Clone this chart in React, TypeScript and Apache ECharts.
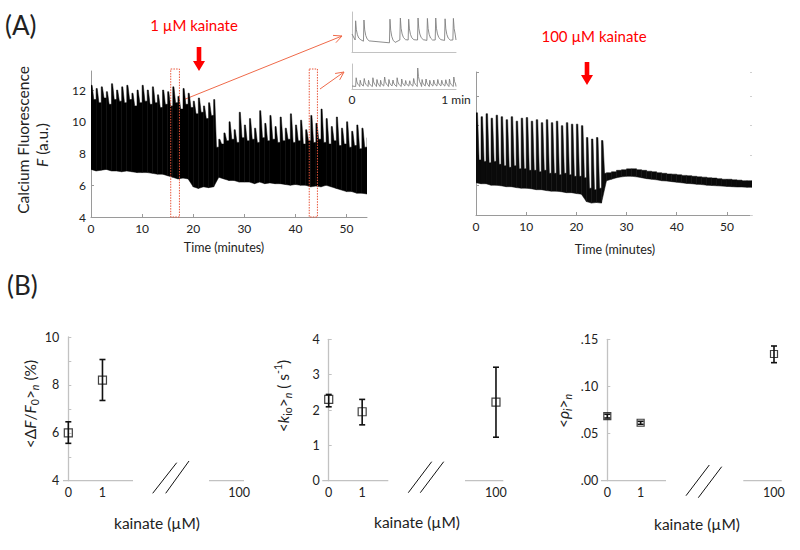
import React, { useEffect, useRef } from 'react';
import * as echarts from 'echarts';

const FONT = 'Lato, "Open Sans", "DejaVu Sans", sans-serif';

// ---------- Panel A: traces, sampled per minute (envelopes) ----------
const leftTime = [0, 1, 2, 3, 4, 5, 6, 7, 8, 9, 10, 11, 12, 13, 14, 15, 16, 17, 18, 19, 20, 21, 22, 23, 24, 25, 26, 27, 28, 29, 30, 31, 32, 33, 34, 35, 36, 37, 38, 39, 40, 41, 42, 43, 44, 45, 46, 47, 48, 49, 50, 51, 52, 53, 54];
const leftLow = [7.0, 6.9, 6.95, 7.0, 6.9, 6.9, 6.85, 6.9, 6.85, 6.8,
  6.8, 6.8, 6.75, 6.7, 6.7, 6.6, 6.5, 6.4, 6.45, 6.4,
  5.9, 5.8, 5.9, 5.85, 5.9, 6.5, 6.4, 6.3, 6.3, 6.2,
  6.2, 6.2, 6.1, 6.2, 6.1, 6.15, 6.1, 6.1, 6.05, 6.0,
  6.05, 6.0, 6.0, 5.9, 5.95, 5.9, 6.0, 5.9, 5.8, 5.7,
  5.6, 5.6, 5.5, 5.5, 5.45];
const leftMid = [11.4, 11.2, 11.5, 11.1, 11.4, 11.3, 11.2, 11.4, 11.0, 11.2,
  11.3, 11.1, 11.2, 10.9, 11.1, 11.0, 11.2, 10.8, 11.1, 10.9,
  10.5, 10.6, 10.2, 10.4, 8.4, 8.6, 8.8, 8.9, 8.7, 9.0,
  8.8, 8.9, 8.7, 9.0, 8.8, 8.9, 8.7, 8.8, 8.9, 8.7,
  8.8, 8.6, 8.8, 8.7, 8.9, 8.7, 8.6, 8.8, 8.5, 8.6,
  8.4, 8.5, 8.3, 8.4, 8.2];
const leftHigh = [12.3, 12.1, 12.2, 11.9, 12.4, 12.0, 12.2, 12.3, 11.8, 12.0,
  12.3, 12.0, 12.2, 11.7, 12.0, 11.9, 12.2, 11.6, 12.1, 11.8,
  11.3, 11.5, 11.0, 11.2, 11.4, 8.9, 9.3, 10.0, 9.5, 10.6,
  9.8, 10.2, 9.6, 10.7, 9.9, 10.4, 9.7, 10.3, 9.6, 10.5,
  9.8, 10.1, 9.5, 10.4, 9.9, 10.8, 10.2, 9.7, 10.3, 9.6,
  10.0, 9.4, 9.8, 9.6, 9.0];

const rightTime = [0, 1, 2, 3, 4, 5, 6, 7, 8, 9, 10, 11, 12, 13, 14, 15, 16, 17, 18, 19, 20, 21, 22, 23, 24, 25, 26, 27, 28, 29, 30, 31, 32, 33, 34, 35, 36, 37, 38, 39, 40, 41, 42, 43, 44, 45, 46, 47, 48, 49, 50, 51, 52, 53, 54];
const rightLow = [1.08, 1.05, 1.05, 1.0, 1.0, 0.98, 0.95, 0.95, 0.92, 0.9,
  0.9, 0.88, 0.85, 0.85, 0.82, 0.8, 0.8, 0.78, 0.75, 0.75,
  0.72, 0.7, 0.45, 0.4, 0.42, 0.4, 1.15, 1.2, 1.25, 1.28,
  1.3, 1.3, 1.28, 1.25, 1.22, 1.2, 1.18, 1.15, 1.14, 1.12,
  1.1, 1.08, 1.06, 1.05, 1.03, 1.02, 1.0, 0.99, 0.98, 0.97,
  0.96, 0.95, 0.94, 0.94, 0.93];
const rightMid = [1.85, 1.8, 1.75, 1.8, 1.7, 1.65, 1.6, 1.65, 1.55, 1.55,
  1.5, 1.5, 1.45, 1.5, 1.4, 1.4, 1.35, 1.4, 1.35, 1.3,
  1.3, 1.25, 0.9, 0.85, 0.9, 1.4, 1.42, 1.45, 1.5, 1.52,
  1.55, 1.55, 1.52, 1.5, 1.47, 1.45, 1.42, 1.4, 1.38, 1.37,
  1.35, 1.33, 1.32, 1.3, 1.28, 1.27, 1.25, 1.24, 1.22, 1.2,
  1.2, 1.18, 1.17, 1.15, 1.15];
const rightHigh = [3.43, 3.3, 3.4, 3.25, 3.35, 3.3, 3.2, 3.3, 3.15, 3.25,
  3.27, 3.15, 3.2, 3.1, 3.2, 3.1, 3.15, 3.0, 3.1, 3.05,
  3.05, 3.0, 2.6, 2.55, 2.6, 2.5, 1.42, 1.45, 1.5, 1.52,
  1.55, 1.55, 1.52, 1.5, 1.47, 1.45, 1.42, 1.4, 1.38, 1.37,
  1.35, 1.33, 1.32, 1.3, 1.28, 1.27, 1.25, 1.24, 1.22, 1.2,
  1.2, 1.18, 1.17, 1.15, 1.15];

const leftYRange = [4, 13.2];
const rightYRange = [0, 4.8];
const zoomBoxStart = [15.6, 42.7];
const zoomBoxEnd = [17.3, 44.3];

// inset traces (1 minute windows)
const insetTopStart = 0.45;
const insetTopTimes = [0.03, 0.11, 0.36, 0.46, 0.54, 0.63, 0.72, 0.80, 0.89, 0.97];
const insetTopPeaks = [0.78, 0.80, 0.82, 0.85, 0.82, 0.85, 0.84, 0.85, 0.83, 0.84];
const insetTopBases = [0.30, 0.27, 0.23, 0.30, 0.30, 0.30, 0.29, 0.30, 0.29, 0.30];
const insetBotStart = 0.12;
const insetBotTimes = [0.035, 0.074, 0.113, 0.154, 0.196, 0.235, 0.27, 0.309, 0.35, 0.389, 0.429, 0.473, 0.511, 0.55, 0.588, 0.627, 0.669, 0.707, 0.743, 0.781, 0.82, 0.858, 0.897, 0.932, 0.974];
const insetBotPeaks = [0.45, 0.35, 0.42, 0.35, 0.45, 0.38, 0.35, 0.48, 0.38, 0.36, 0.45, 0.40, 0.34, 0.33, 0.42, 0.84, 0.38, 0.40, 0.35, 0.36, 0.38, 0.35, 0.37, 0.40, 0.48];
const insetBotBases = [0.10, 0.10, 0.10, 0.10, 0.10, 0.10, 0.10, 0.10, 0.10, 0.10, 0.10, 0.10, 0.10, 0.10, 0.10, 0.10, 0.10, 0.10, 0.10, 0.10, 0.10, 0.10, 0.10, 0.10, 0.10];

// ---------- Panel B ----------
const kainateLabels = ['0', '1', '100'];
const kainatePos = [0, 1, 5];
const dffMean = [6.0, 8.2];
const dffLow = [5.56, 7.35];
const dffHigh = [6.46, 9.06];
const kioMean = [2.30, 1.95, 2.22];
const kioLow = [2.09, 1.58, 1.23];
const kioHigh = [2.44, 2.30, 3.21];
const rhoMean = [0.0686, 0.0615, 0.1344];
const rhoLow = [0.0665, 0.0598, 0.1252];
const rhoHigh = [0.0705, 0.063, 0.1429];

const AX = '#9a9a9a';
const AXL = '#c2c2c2';
const TXT = '#222';

function traceSeries(xi: number, yi: number, time: number[], low: number[], mid: number[], high: number[], color: string, topFrac: number, fallFrac: number) {
  const data = time.map((t, i) => {
    const last = i === time.length - 1;
    return [t, low[i], mid[i], high[i], last ? t + 1 : time[i + 1], last ? low[i] : low[i + 1]];
  });
  return {
    type: 'custom', xAxisIndex: xi, yAxisIndex: yi, clip: true, silent: true,
    encode: { x: 0, y: [1, 3] },
    data,
    renderItem: (_p: any, api: any) => {
      const t = api.value(0), lo = api.value(1), md = api.value(2), hi = api.value(3), tn = api.value(4), ln = api.value(5);
      const dt = tn - t;
      const pts = [
        api.coord([t, lo]), api.coord([t, hi]), api.coord([t + dt * topFrac, hi]),
        api.coord([t + dt * fallFrac, md]), api.coord([tn, md]), api.coord([tn, ln]),
      ];
      return { type: 'polygon', shape: { points: pts }, style: { fill: color, stroke: color, lineWidth: 0.5 } };
    },
  };
}

function spikePoints(start: number, times: number[], peaks: number[], bases: number[]) {
  const pts: number[][] = [[0, start]];
  times.forEach((s, i) => {
    const b = bases[i], p = peaks[i];
    const next = i < times.length - 1 ? times[i + 1] : 1;
    pts.push([s, b]);
    pts.push([s + 0.005, p]);
    const decay = [[0.012, 0.55], [0.022, 0.3], [0.035, 0.14], [0.055, 0.05]];
    decay.forEach(([dt, f]) => {
      if (s + dt < next - 0.002) pts.push([s + dt, b + f * (p - b) - (1 - f) * 0.02]);
    });
  });
  pts.push([1, bases[bases.length - 1]]);
  return pts;
}

function errorSeries(xi: number, yi: number, pos: number[], lo: number[], hi: number[]) {
  return {
    type: 'custom', xAxisIndex: xi, yAxisIndex: yi, silent: true,
    encode: { x: 0, y: [1, 2] },
    data: pos.map((p, i) => [p, lo[i], hi[i]]),
    renderItem: (_p: any, api: any) => {
      const x = api.value(0);
      const a = api.coord([x, api.value(1)]);
      const b = api.coord([x, api.value(2)]);
      const st = { stroke: '#111', lineWidth: 1.6 };
      const c = 3;
      return {
        type: 'group', children: [
          { type: 'line', shape: { x1: a[0], y1: a[1], x2: b[0], y2: b[1] }, style: st },
          { type: 'line', shape: { x1: a[0] - c, y1: a[1], x2: a[0] + c, y2: a[1] }, style: st },
          { type: 'line', shape: { x1: b[0] - c, y1: b[1], x2: b[0] + c, y2: b[1] }, style: st },
        ],
      };
    },
  };
}

function scatterSeries(xi: number, yi: number, pos: number[], mean: number[], size: number) {
  return {
    type: 'scatter', xAxisIndex: xi, yAxisIndex: yi, silent: true, symbol: 'rect', symbolSize: size,
    itemStyle: { color: 'rgba(0,0,0,0)', borderColor: '#111', borderWidth: 1.2 },
    data: pos.map((p, i) => [p, mean[i]]),
    z: 5,
  };
}

function bXAxis(gi: number) {
  return {
    type: 'value', gridIndex: gi, min: -0.15, max: 5.15,
    axisLine: { show: false }, axisTick: { show: false }, splitLine: { show: false },
    axisLabel: {
      customValues: kainatePos, margin: 5, fontSize: 12.5, color: TXT, fontFamily: FONT,
      formatter: (v: number) => { const k = kainatePos.indexOf(v); return k >= 0 ? kainateLabels[k] : ''; },
    },
  };
}

function bYAxis(gi: number, min: number, max: number, interval: number, fmt: (v: number) => string) {
  return {
    type: 'value', gridIndex: gi, min, max, interval,
    axisLine: { show: true, lineStyle: { color: AXL, width: 1.3 } },
    axisTick: { show: true, inside: true, length: 3, lineStyle: { color: AXL } },
    splitLine: { show: false },
    axisLabel: { margin: 4, fontSize: 12.5, color: TXT, fontFamily: FONT, formatter: fmt },
  };
}

function hLine(x1: number, y1: number, x2: number, y2: number, color: string, w: number) {
  return { type: 'line', silent: true, shape: { x1, y1, x2, y2 }, style: { stroke: color, lineWidth: w } };
}

function arrow(x1: number, y1: number, x2: number, y2: number, color: string) {
  const ang = Math.atan2(y2 - y1, x2 - x1);
  const L = 9, A = 0.45;
  return [
    hLine(x1, y1, x2, y2, color, 1),
    hLine(x2, y2, x2 - L * Math.cos(ang - A), y2 - L * Math.sin(ang - A), color, 1),
    hLine(x2, y2, x2 - L * Math.cos(ang + A), y2 - L * Math.sin(ang + A), color, 1),
  ];
}

function downArrow(x: number, y0: number, yh: number, y1: number) {
  return {
    type: 'polygon', silent: true,
    shape: { points: [[x - 2.3, y0], [x + 2.3, y0], [x + 2.3, yh], [x + 6, yh], [x, y1], [x - 6, yh], [x - 2.3, yh]] },
    style: { fill: '#ff0000' },
  };
}

function txt(x: number, y: number, text: string, size: number, opts: any = {}) {
  return {
    type: 'text', x, y, silent: true, rotation: opts.rotation || 0,
    style: {
      text, fontSize: size, fontFamily: FONT, fill: opts.color || TXT,
      align: opts.align || 'center', verticalAlign: 'middle', rich: opts.rich,
    },
  };
}

function richSet(size: number) {
  return {
    a: { fontSize: size, fontFamily: FONT, color: TXT },
    i: { fontSize: size, fontFamily: FONT, fontStyle: 'italic', color: TXT },
    s: { fontSize: size * 0.68, fontFamily: FONT, color: TXT, verticalAlign: 'bottom', lineHeight: size * 1.35 },
    n: { fontSize: size * 0.68, fontFamily: FONT, fontStyle: 'italic', color: TXT, verticalAlign: 'bottom', lineHeight: size * 1.35 },
    sup: { fontSize: size * 0.68, fontFamily: FONT, color: TXT, verticalAlign: 'top', lineHeight: size * 1.35 },
  };
}

export default function App() {
  const ref = useRef<HTMLDivElement>(null);
  useEffect(() => {
    if (!ref.current) return;
    const chart = echarts.init(ref.current, undefined, { renderer: 'svg' });
    const orange = '#ef6a4a';
    const option: any = {
      animation: false,
      backgroundColor: '#fff',
      textStyle: { fontFamily: FONT },
      grid: [
        { left: 91, top: 71, width: 276, height: 146 },
        { left: 476, top: 72, width: 276, height: 143 },
        { left: 352, top: 12, width: 104, height: 40 },
        { left: 352, top: 64, width: 104, height: 25 },
        { left: 63.2, top: 337, width: 181, height: 143.7 },
        { left: 323.7, top: 339.3, width: 177.3, height: 141.4 },
        { left: 602.3, top: 339.3, width: 176.7, height: 141.4 },
      ],
      xAxis: [
        {
          type: 'value', gridIndex: 0, min: 0, max: 54, interval: 10,
          axisLine: { lineStyle: { color: AX } }, axisTick: { inside: true, length: 3, lineStyle: { color: AX } },
          splitLine: { show: false }, axisLabel: { fontSize: 12, color: TXT, margin: 5, fontFamily: FONT, showMaxLabel: false },
        },
        {
          type: 'value', gridIndex: 1, min: 0, max: 55, interval: 10,
          axisLine: { lineStyle: { color: AX } }, axisTick: { inside: true, length: 3, lineStyle: { color: AX } },
          splitLine: { show: false }, axisLabel: { fontSize: 12, color: TXT, margin: 5, fontFamily: FONT, showMaxLabel: false },
        },
        {
          type: 'value', gridIndex: 2, min: 0, max: 1,
          axisLine: { lineStyle: { color: AXL } }, axisTick: { show: false }, splitLine: { show: false }, axisLabel: { show: false },
        },
        {
          type: 'value', gridIndex: 3, min: 0, max: 1, interval: 1,
          axisLine: { lineStyle: { color: AXL } }, axisTick: { show: false }, splitLine: { show: false },
          axisLabel: { fontSize: 12, color: TXT, margin: 4, fontFamily: FONT, formatter: (v: number) => (v === 0 ? '0' : '1 min') },
        },
        bXAxis(4), bXAxis(5), bXAxis(6),
      ],
      yAxis: [
        {
          type: 'value', gridIndex: 0, min: leftYRange[0], max: leftYRange[1], interval: 2,
          axisLine: { show: true, lineStyle: { color: AX } }, axisTick: { show: true, inside: true, length: 3, lineStyle: { color: AX } },
          splitLine: { show: false }, axisLabel: { fontSize: 12, color: TXT, margin: 5, fontFamily: FONT, showMaxLabel: false },
        },
        {
          type: 'value', gridIndex: 1, min: rightYRange[0], max: rightYRange[1], interval: 1,
          axisLine: { show: true, lineStyle: { color: AX } }, axisTick: { show: true, inside: true, length: 3, lineStyle: { color: AX } },
          splitLine: { show: false }, axisLabel: { show: false },
        },
        {
          type: 'value', gridIndex: 1, position: 'right', min: rightYRange[0], max: rightYRange[1], interval: 1,
          axisLine: { show: false }, axisTick: { show: true, inside: true, length: 2, lineStyle: { color: '#d0d0d0' } },
          splitLine: { show: false }, axisLabel: { show: false },
        },
        {
          type: 'value', gridIndex: 2, min: 0, max: 1,
          axisLine: { show: true, lineStyle: { color: AXL } }, axisTick: { show: false }, splitLine: { show: false }, axisLabel: { show: false },
        },
        {
          type: 'value', gridIndex: 3, min: 0, max: 1,
          axisLine: { show: true, lineStyle: { color: AXL } }, axisTick: { show: false }, splitLine: { show: false }, axisLabel: { show: false },
        },
        bYAxis(4, 4, 10, 1, (v: number) => (v % 2 === 0 ? String(v) : '')),
        bYAxis(5, 0, 4, 1, (v: number) => String(v)),
        bYAxis(6, 0, 0.15, 0.05, (v: number) => v.toFixed(2).replace(/^0/, '')),
      ],
      series: [
        traceSeries(0, 0, leftTime, leftLow, leftMid, leftHigh, '#000', 0.22, 0.55),
        {
          type: 'custom', xAxisIndex: 0, yAxisIndex: 0, clip: false, silent: true, z: 4,
          encode: { x: [0, 1] },
          data: zoomBoxStart.map((s, i) => [s, zoomBoxEnd[i]]),
          renderItem: (_p: any, api: any) => {
            const a = api.coord([api.value(0), leftYRange[1]]);
            const b = api.coord([api.value(1), leftYRange[0]]);
            return {
              type: 'rect', shape: { x: a[0], y: a[1] - 2, width: b[0] - a[0], height: b[1] - a[1] + 2 },
              style: { fill: 'none', stroke: '#e8553a', lineWidth: 1, lineDash: [1.5, 1.2] },
            };
          },
        },
        traceSeries(1, 1, rightTime, rightLow, rightMid, rightHigh, '#0a0a0a', 0.3, 0.62),
        {
          type: 'line', xAxisIndex: 2, yAxisIndex: 3, showSymbol: false, silent: true,
          lineStyle: { color: '#808080', width: 0.9 },
          data: spikePoints(insetTopStart, insetTopTimes, insetTopPeaks, insetTopBases),
        },
        {
          type: 'line', xAxisIndex: 3, yAxisIndex: 4, showSymbol: false, silent: true,
          lineStyle: { color: '#808080', width: 0.9 },
          data: spikePoints(insetBotStart, insetBotTimes, insetBotPeaks, insetBotBases),
        },
        errorSeries(4, 5, kainatePos.slice(0, 2), dffLow, dffHigh),
        scatterSeries(4, 5, kainatePos.slice(0, 2), dffMean, 8),
        errorSeries(5, 6, kainatePos, kioLow, kioHigh),
        scatterSeries(5, 6, kainatePos, kioMean, 8),
        errorSeries(6, 7, kainatePos, rhoLow, rhoHigh),
        scatterSeries(6, 7, kainatePos, rhoMean, 7),
      ],
      graphic: [
        txt(5, 25, '(A)', 26, { align: 'left' }),
        txt(7, 285, '(B)', 26, { align: 'left' }),
        txt(194, 25, '1 µM kainate', 15, { color: '#ff0000' }),
        txt(594, 36, '100 µM kainate', 15, { color: '#ff0000' }),
        downArrow(199, 47, 61, 71),
        downArrow(587, 62, 75, 85),
        ...arrow(183, 100, 342, 36, orange),
        ...arrow(320, 89, 344, 72, orange),
        txt(22.7, 140, 'Calcium Fluorescence', 15.5, { rotation: Math.PI / 2 }),
        txt(41.7, 145, '{i|F}{a| (a.u.)}', 15.5, { rotation: Math.PI / 2, rich: richSet(15.5) }),
        txt(224, 247, 'Time (minutes)', 12.5),
        txt(615, 249, 'Time (minutes)', 12.5),
        txt(30, 404, '{a|<Δ}{i|F}{a|/}{i|F}{s|0}{a|>}{n|n}{a| (%)}', 15.5, { rotation: Math.PI / 2, rich: richSet(15.5) }),
        txt(283, 396, '{a|<}{i|k}{s|io}{a|>}{n|n}{a| ( s}{sup|-1}{a|)}', 15.5, { rotation: Math.PI / 2, rich: richSet(15.5) }),
        txt(563, 411, '{a|<}{i|ρ}{n|i}{a|>}{n|n}', 15.5, { rotation: Math.PI / 2, rich: richSet(15.5) }),
        txt(157, 523, 'kainate (µM)', 15.5),
        txt(417, 522, 'kainate (µM)', 15.5),
        txt(697, 524, 'kainate (µM)', 15.5),
        hLine(63, 480.7, 133, 480.7, AXL, 1.3),
        hLine(209, 480.7, 244, 480.7, AXL, 1.3),
        hLine(152.7, 493.3, 176.7, 462.7, '#111', 1),
        hLine(165.7, 493.3, 189, 461, '#111', 1),
        hLine(322.3, 480.7, 388.3, 480.7, AXL, 1.3),
        hLine(465, 480.7, 503.3, 480.7, AXL, 1.3),
        hLine(408.3, 492.7, 431.7, 461.7, '#111', 1),
        hLine(420.3, 492.7, 443.7, 461.7, '#111', 1),
        hLine(601, 480.7, 666, 480.7, AXL, 1.3),
        hLine(743.3, 480.7, 781.7, 480.7, AXL, 1.3),
        hLine(686, 495.7, 709.3, 465, '#111', 1),
        hLine(698.3, 497.7, 721.7, 466.7, '#111', 1),
      ],
    };
    chart.setOption(option);
    return () => chart.dispose();
  }, []);
  return <div ref={ref} style={{ position: 'absolute', left: 0, top: 0, width: 800, height: 550, background: '#fff' }} />;
}
